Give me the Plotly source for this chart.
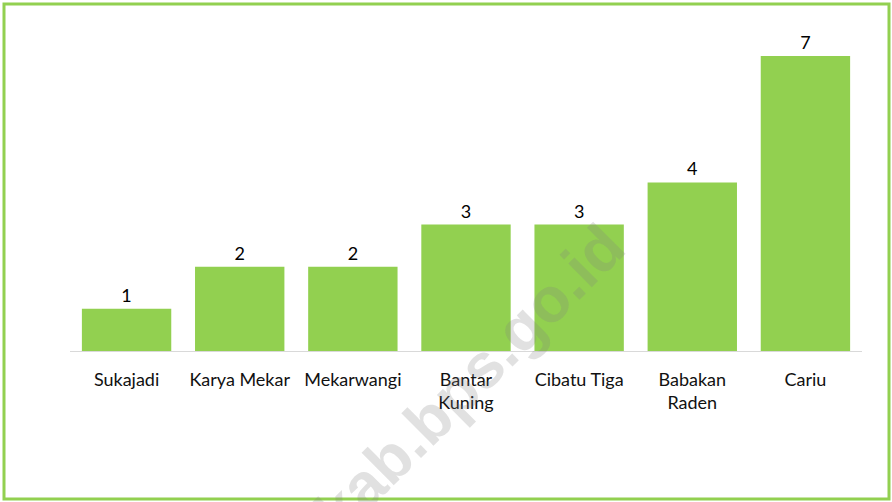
import plotly.graph_objects as go

desa = ["Sukajadi", "Karya Mekar", "Mekarwangi", "Bantar<br>Kuning",
        "Cibatu Tiga", "Babakan<br>Raden", "Cariu"]
jumlah = [1, 2, 2, 3, 3, 4, 7]

W, H = 892, 502
L, R, T, B = 70, 30, 56, 151
pw, ph = W - L - R, H - T - B


def px_x(x):
    return (x - L) / pw


def px_y(y):
    return (H - B - y) / ph


fig = go.Figure(go.Bar(
    x=desa, y=jumlah,
    marker=dict(color="#92d050", line=dict(width=0)),
    text=jumlah, textposition="outside", cliponaxis=False,
    textfont=dict(family="Lato", size=18, color="#000000"),
))

fig.update_layout(
    width=W, height=H,
    margin=dict(l=L, r=R, t=T, b=B),
    plot_bgcolor="white", paper_bgcolor="white",
    bargap=0.21,
    showlegend=False,
    font=dict(family="Lato", size=18, color="#111111"),
    xaxis=dict(showline=True, linecolor="#d9d9d9", linewidth=1,
               showgrid=False, ticks="", ticklabelstandoff=12,
               tickfont=dict(family="Lato", size=18, color="#111111")),
    yaxis=dict(range=[0, 7], visible=False, showgrid=False, zeroline=False),
)

# green frame around the whole picture
fig.add_shape(type="rect", xref="paper", yref="paper",
              x0=px_x(4), x1=px_x(889), y0=px_y(499), y1=px_y(4),
              line=dict(color="#92d050", width=3), layer="above")

# watermark (runs off the bottom edge, as in the original)
fig.add_annotation(xref="paper", yref="paper", x=px_x(406), y=px_y(442),
                   xanchor="center", yanchor="middle",
                   text="<b>bogorkab.bps.go.id</b>", showarrow=False,
                   textangle=-45,
                   font=dict(family="Liberation Sans", size=63,
                             color="rgba(130,130,130,0.24)"))

fig.write_html("out.html", config={"displayModeBar": False},
               post_script="document.body.style.margin='0';")
